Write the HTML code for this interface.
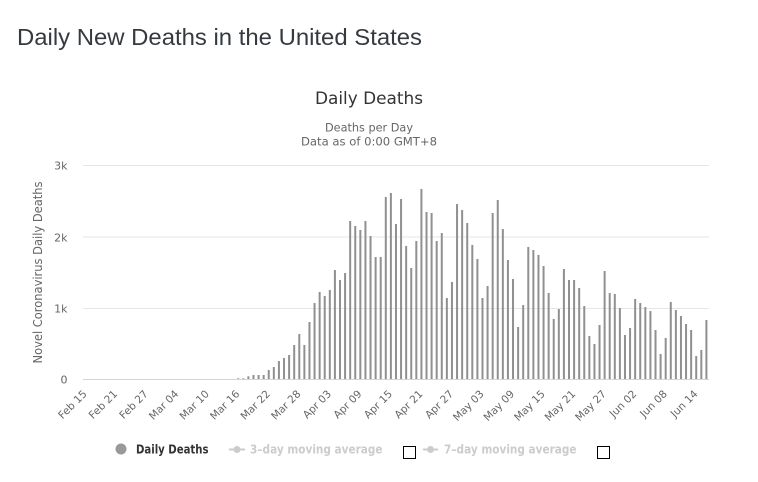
<!DOCTYPE html>
<html>
<head>
<meta charset="utf-8">
<style>
html,body{margin:0;padding:0;background:#fff;}
svg{display:block;}
</style>
</head>
<body>
<svg width="758" height="482" viewBox="0 0 758 482" xmlns="http://www.w3.org/2000/svg">
<rect x="0" y="0" width="758" height="482" fill="#fff"/>
<!-- Page title -->
<text x="17" y="45" font-family="Liberation Sans, Arial, sans-serif" font-size="23.5" fill="#343a40" textLength="405" lengthAdjust="spacingAndGlyphs">Daily New Deaths in the United States</text>

<!-- Chart title -->
<text x="369" y="104" text-anchor="middle" font-family="DejaVu Sans, sans-serif" font-size="17" fill="#333" textLength="108" lengthAdjust="spacingAndGlyphs">Daily Deaths</text>
<text x="369" y="131.5" text-anchor="middle" font-family="DejaVu Sans, sans-serif" font-size="11.5" fill="#666" textLength="88" lengthAdjust="spacingAndGlyphs">Deaths per Day</text>
<text x="369" y="145.5" text-anchor="middle" font-family="DejaVu Sans, sans-serif" font-size="11.5" fill="#666" textLength="136" lengthAdjust="spacingAndGlyphs">Data as of 0:00 GMT+8</text>

<!-- Grid lines -->
<g stroke="#e6e6e6" stroke-width="1">
<line x1="83" y1="165.5" x2="709" y2="165.5"/>
<line x1="83" y1="237" x2="709" y2="237"/>
<line x1="83" y1="308.5" x2="709" y2="308.5"/>
</g>
<line x1="83" y1="379.5" x2="709" y2="379.5" stroke="#ccd6eb" stroke-width="1"/>

<!-- Y labels -->
<g font-family="DejaVu Sans, sans-serif" font-size="11" fill="#666" text-anchor="end">
<text x="67.5" y="169.5">3k</text>
<text x="67.5" y="241.5">2k</text>
<text x="67.5" y="312.5">1k</text>
<text x="67.5" y="383.5">0</text>
</g>

<!-- Y title -->
<text transform="translate(42,272.5) rotate(-90)" x="0" y="0" text-anchor="middle" font-family="DejaVu Sans, sans-serif" font-size="12" fill="#666" textLength="182" lengthAdjust="spacingAndGlyphs">Novel Coronavirus Daily Deaths</text>

<!-- Bars -->
<g transform="translate(83,379) scale(5.089,-0.071333)" fill="#909090">
<rect x="30.3035" y="0" width="0.393" height="10"/>
<rect x="31.3035" y="0" width="0.393" height="10"/>
<rect x="32.3035" y="0" width="0.393" height="38"/>
<rect x="33.3035" y="0" width="0.393" height="56"/>
<rect x="34.3035" y="0" width="0.393" height="56"/>
<rect x="35.3035" y="0" width="0.393" height="56"/>
<rect x="36.3035" y="0" width="0.393" height="126"/>
<rect x="37.3035" y="0" width="0.393" height="168"/>
<rect x="38.3035" y="0" width="0.393" height="252"/>
<rect x="39.3035" y="0" width="0.393" height="294"/>
<rect x="40.3035" y="0" width="0.393" height="336"/>
<rect x="41.3035" y="0" width="0.393" height="477"/>
<rect x="42.3035" y="0" width="0.393" height="631"/>
<rect x="43.3035" y="0" width="0.393" height="477"/>
<rect x="44.3035" y="0" width="0.393" height="799"/>
<rect x="45.3035" y="0" width="0.393" height="1065"/>
<rect x="46.3035" y="0" width="0.393" height="1220"/>
<rect x="47.3035" y="0" width="0.393" height="1164"/>
<rect x="48.3035" y="0" width="0.393" height="1248"/>
<rect x="49.3035" y="0" width="0.393" height="1528"/>
<rect x="50.3035" y="0" width="0.393" height="1388"/>
<rect x="51.3035" y="0" width="0.393" height="1486"/>
<rect x="52.3035" y="0" width="0.393" height="2215"/>
<rect x="53.3035" y="0" width="0.393" height="2145"/>
<rect x="54.3035" y="0" width="0.393" height="2089"/>
<rect x="55.3035" y="0" width="0.393" height="2215"/>
<rect x="56.3035" y="0" width="0.393" height="2005"/>
<rect x="57.3035" y="0" width="0.393" height="1710"/>
<rect x="58.3035" y="0" width="0.393" height="1710"/>
<rect x="59.3035" y="0" width="0.393" height="2552"/>
<rect x="60.3035" y="0" width="0.393" height="2608"/>
<rect x="61.3035" y="0" width="0.393" height="2173"/>
<rect x="62.3035" y="0" width="0.393" height="2524"/>
<rect x="63.3035" y="0" width="0.393" height="1865"/>
<rect x="64.3035" y="0" width="0.393" height="1556"/>
<rect x="65.3035" y="0" width="0.393" height="1935"/>
<rect x="66.3035" y="0" width="0.393" height="2664"/>
<rect x="67.3035" y="0" width="0.393" height="2341"/>
<rect x="68.3035" y="0" width="0.393" height="2327"/>
<rect x="69.3035" y="0" width="0.393" height="1935"/>
<rect x="70.3035" y="0" width="0.393" height="2047"/>
<rect x="71.3035" y="0" width="0.393" height="1136"/>
<rect x="72.3035" y="0" width="0.393" height="1360"/>
<rect x="73.3035" y="0" width="0.393" height="2454"/>
<rect x="74.3035" y="0" width="0.393" height="2369"/>
<rect x="75.3035" y="0" width="0.393" height="2187"/>
<rect x="76.3035" y="0" width="0.393" height="1879"/>
<rect x="77.3035" y="0" width="0.393" height="1682"/>
<rect x="78.3035" y="0" width="0.393" height="1136"/>
<rect x="79.3035" y="0" width="0.393" height="1304"/>
<rect x="80.3035" y="0" width="0.393" height="2327"/>
<rect x="81.3035" y="0" width="0.393" height="2510"/>
<rect x="82.3035" y="0" width="0.393" height="2103"/>
<rect x="83.3035" y="0" width="0.393" height="1668"/>
<rect x="84.3035" y="0" width="0.393" height="1402"/>
<rect x="85.3035" y="0" width="0.393" height="729"/>
<rect x="86.3035" y="0" width="0.393" height="1037"/>
<rect x="87.3035" y="0" width="0.393" height="1851"/>
<rect x="88.3035" y="0" width="0.393" height="1809"/>
<rect x="89.3035" y="0" width="0.393" height="1739"/>
<rect x="90.3035" y="0" width="0.393" height="1584"/>
<rect x="91.3035" y="0" width="0.393" height="1206"/>
<rect x="92.3035" y="0" width="0.393" height="841"/>
<rect x="93.3035" y="0" width="0.393" height="981"/>
<rect x="94.3035" y="0" width="0.393" height="1542"/>
<rect x="95.3035" y="0" width="0.393" height="1388"/>
<rect x="96.3035" y="0" width="0.393" height="1388"/>
<rect x="97.3035" y="0" width="0.393" height="1276"/>
<rect x="98.3035" y="0" width="0.393" height="1023"/>
<rect x="99.3035" y="0" width="0.393" height="603"/>
<rect x="100.3035" y="0" width="0.393" height="491"/>
<rect x="101.3035" y="0" width="0.393" height="757"/>
<rect x="102.3035" y="0" width="0.393" height="1514"/>
<rect x="103.3035" y="0" width="0.393" height="1206"/>
<rect x="104.3035" y="0" width="0.393" height="1192"/>
<rect x="105.3035" y="0" width="0.393" height="995"/>
<rect x="106.3035" y="0" width="0.393" height="617"/>
<rect x="107.3035" y="0" width="0.393" height="715"/>
<rect x="108.3035" y="0" width="0.393" height="1122"/>
<rect x="109.3035" y="0" width="0.393" height="1065"/>
<rect x="110.3035" y="0" width="0.393" height="1009"/>
<rect x="111.3035" y="0" width="0.393" height="953"/>
<rect x="112.3035" y="0" width="0.393" height="687"/>
<rect x="113.3035" y="0" width="0.393" height="351"/>
<rect x="114.3035" y="0" width="0.393" height="575"/>
<rect x="115.3035" y="0" width="0.393" height="1080"/>
<rect x="116.3035" y="0" width="0.393" height="967"/>
<rect x="117.3035" y="0" width="0.393" height="883"/>
<rect x="118.3035" y="0" width="0.393" height="771"/>
<rect x="119.3035" y="0" width="0.393" height="687"/>
<rect x="120.3035" y="0" width="0.393" height="322"/>
<rect x="121.3035" y="0" width="0.393" height="407"/>
<rect x="122.3035" y="0" width="0.393" height="827"/>
</g>

<!-- X labels -->
<g font-family="DejaVu Sans, sans-serif" font-size="10.5" fill="#666" text-anchor="end">
<text transform="translate(87.5,394.5) rotate(-45)">Feb 15</text>
<text transform="translate(118.0,394.5) rotate(-45)">Feb 21</text>
<text transform="translate(148.6,394.5) rotate(-45)">Feb 27</text>
<text transform="translate(179.1,394.5) rotate(-45)">Mar 04</text>
<text transform="translate(209.7,394.5) rotate(-45)">Mar 10</text>
<text transform="translate(240.2,394.5) rotate(-45)">Mar 16</text>
<text transform="translate(270.7,394.5) rotate(-45)">Mar 22</text>
<text transform="translate(301.3,394.5) rotate(-45)">Mar 28</text>
<text transform="translate(331.8,394.5) rotate(-45)">Apr 03</text>
<text transform="translate(362.4,394.5) rotate(-45)">Apr 09</text>
<text transform="translate(392.9,394.5) rotate(-45)">Apr 15</text>
<text transform="translate(423.4,394.5) rotate(-45)">Apr 21</text>
<text transform="translate(454.0,394.5) rotate(-45)">Apr 27</text>
<text transform="translate(484.5,394.5) rotate(-45)">May 03</text>
<text transform="translate(515.0,394.5) rotate(-45)">May 09</text>
<text transform="translate(545.6,394.5) rotate(-45)">May 15</text>
<text transform="translate(576.1,394.5) rotate(-45)">May 21</text>
<text transform="translate(606.7,394.5) rotate(-45)">May 27</text>
<text transform="translate(637.2,394.5) rotate(-45)">Jun 02</text>
<text transform="translate(667.7,394.5) rotate(-45)">Jun 08</text>
<text transform="translate(698.3,394.5) rotate(-45)">Jun 14</text>
</g>

<!-- Legend -->
<circle cx="121" cy="449" r="5.5" fill="#999"/>
<text x="136" y="453.5" font-family="DejaVu Sans, sans-serif" font-size="12" font-weight="bold" fill="#333" textLength="72.5" lengthAdjust="spacingAndGlyphs">Daily Deaths</text>

<line x1="229" y1="449.5" x2="245" y2="449.5" stroke="#ccc" stroke-width="2"/>
<circle cx="237" cy="449.5" r="3.5" fill="#ccc"/>
<text x="250" y="453.5" font-family="DejaVu Sans, sans-serif" font-size="12" font-weight="bold" fill="#ccc" textLength="132.5" lengthAdjust="spacingAndGlyphs">3–day moving average</text>
<rect x="403.5" y="446.5" width="12" height="12" fill="#fff" stroke="#000" stroke-width="1"/>

<line x1="423" y1="449.5" x2="438" y2="449.5" stroke="#ccc" stroke-width="2"/>
<circle cx="430.5" cy="449.5" r="3.5" fill="#ccc"/>
<text x="444" y="453.5" font-family="DejaVu Sans, sans-serif" font-size="12" font-weight="bold" fill="#ccc" textLength="132.5" lengthAdjust="spacingAndGlyphs">7–day moving average</text>
<rect x="597.5" y="446.5" width="12" height="12" fill="#fff" stroke="#000" stroke-width="1"/>
</svg>
</body>
</html>
